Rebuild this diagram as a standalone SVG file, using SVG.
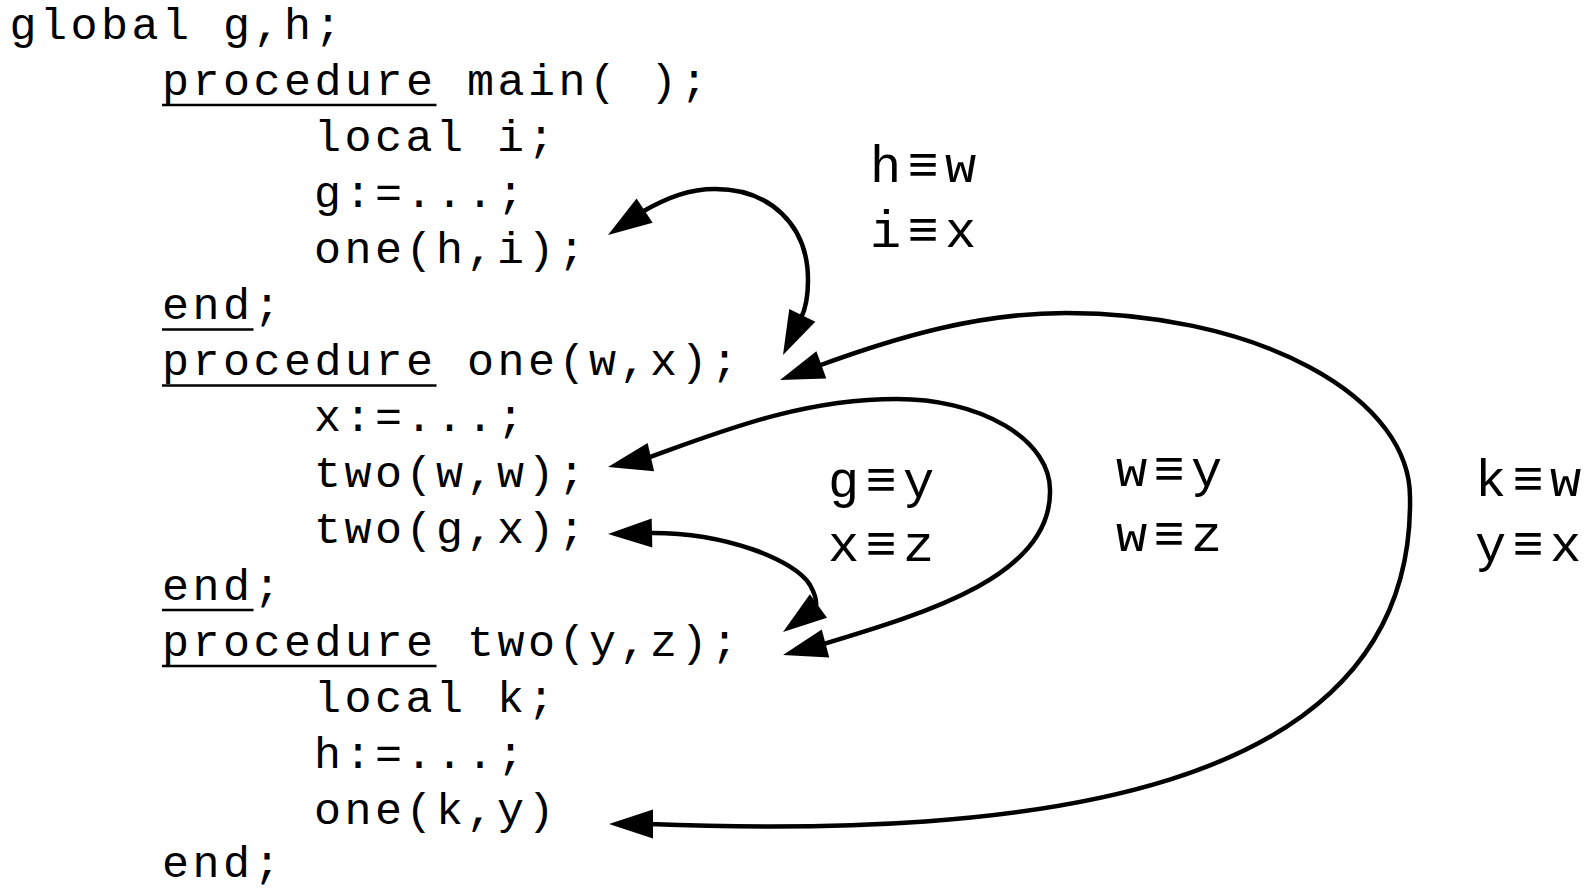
<svg xmlns="http://www.w3.org/2000/svg" xmlns:xlink="http://www.w3.org/1999/xlink" width="1591" height="889" viewBox="0 0 1591 889">
  <style>
    .code { font-family: "Liberation Mono", "DejaVu Sans Mono", monospace; font-size: 45px; letter-spacing: 3.5px; fill: #000; }
    .alias { font-family: "Liberation Mono", "DejaVu Sans Mono", monospace; font-size: 52px; letter-spacing: 6.3px; fill: #000; }
    .ul { stroke: #000; stroke-width: 2.5; }
    .link { fill: none; stroke: #000; stroke-width: 4.5; stroke-linecap: butt; }
    .head { fill: #000; stroke: none; }
  </style>
  <defs>
    <!-- arrowhead with its tip at the origin, pointing along +x -->
    <path id="ah" d="M0,0 L-44,-14.5 L-44,14.5 Z"/>
  </defs>
  <rect width="1591" height="889" fill="#fff"/>

  <g id="global">
    <text class="code" x="9.5" y="38.5">global g,h;</text>
  </g>

  <g id="proc-main">
    <text class="code" x="162" y="94.6">procedure main( );</text>
    <line class="ul" x1="162" y1="105.1" x2="436.5" y2="105.1"/>
    <text class="code" x="314" y="150.7">local i;</text>
    <text class="code" x="314" y="206.8">g:=...;</text>
    <text class="code" x="314" y="262.9">one(h,i);</text>
    <text class="code" x="162" y="319">end;</text>
    <line class="ul" x1="162" y1="329.5" x2="253.5" y2="329.5"/>
  </g>

  <g id="proc-one">
    <text class="code" x="162" y="375.1">procedure one(w,x);</text>
    <line class="ul" x1="162" y1="385.6" x2="436.5" y2="385.6"/>
    <text class="code" x="314" y="431.2">x:=...;</text>
    <text class="code" x="314" y="487.3">two(w,w);</text>
    <text class="code" x="314" y="543.4">two(g,x);</text>
    <text class="code" x="162" y="599.5">end;</text>
    <line class="ul" x1="162" y1="610" x2="253.5" y2="610"/>
  </g>

  <g id="proc-two">
    <text class="code" x="162" y="655.6">procedure two(y,z);</text>
    <line class="ul" x1="162" y1="666.1" x2="436.5" y2="666.1"/>
    <text class="code" x="314" y="711.7">local k;</text>
    <text class="code" x="314" y="767.8">h:=...;</text>
    <text class="code" x="314" y="823.9">one(k,y)</text>
    <text class="code" x="162" y="877">end;</text>
  </g>

  <g id="connectors">
    <!-- main: one(h,i) <-> procedure one -->
    <path class="link" d="M642,212 C668,197 690,189 715,189 C770,189 808,225 808,280 C808,295 806,308 801,318"/>
    <use class="head" xlink:href="#ah" transform="translate(608,235) rotate(146.3)"/>
    <use class="head" xlink:href="#ah" transform="translate(783,355) rotate(116)"/>

    <!-- two: one(k,y) <-> procedure one -->
    <path class="link" d="M818,366 C900,336 980,313 1066,313 A344,184 0 0 1 1410,497 C1415,800 1020,838 649,824"/>
    <use class="head" xlink:href="#ah" transform="translate(780,380) rotate(160)"/>
    <use class="head" xlink:href="#ah" transform="translate(609,824) rotate(180)"/>

    <!-- one: two(w,w) <-> procedure two -->
    <path class="link" d="M647,458 C720,432 800,399 897,399 A153,91 0 0 1 1050,490 C1052,575 930,612 821.6,644.6"/>
    <use class="head" xlink:href="#ah" transform="translate(608,467) rotate(167)"/>
    <use class="head" xlink:href="#ah" transform="translate(783,655) rotate(165)"/>

    <!-- one: two(g,x) <-> procedure two -->
    <path class="link" d="M648,533 C725,532 795,560 810,585 C815,594 817,600 816,606"/>
    <use class="head" xlink:href="#ah" transform="translate(608,534) rotate(178.7)"/>
    <use class="head" xlink:href="#ah" transform="translate(783,632) rotate(143.7)"/>
  </g>

  <g id="aliases">
    <text class="alias" x="870" y="182">h≡w</text>
    <text class="alias" x="870" y="247">i≡x</text>
    <text class="alias" x="828" y="497">g≡y</text>
    <text class="alias" x="828" y="561">x≡z</text>
    <text class="alias" x="1116" y="486">w≡y</text>
    <text class="alias" x="1116" y="551">w≡z</text>
    <text class="alias" x="1475" y="496">k≡w</text>
    <text class="alias" x="1475" y="561">y≡x</text>
  </g>
</svg>
